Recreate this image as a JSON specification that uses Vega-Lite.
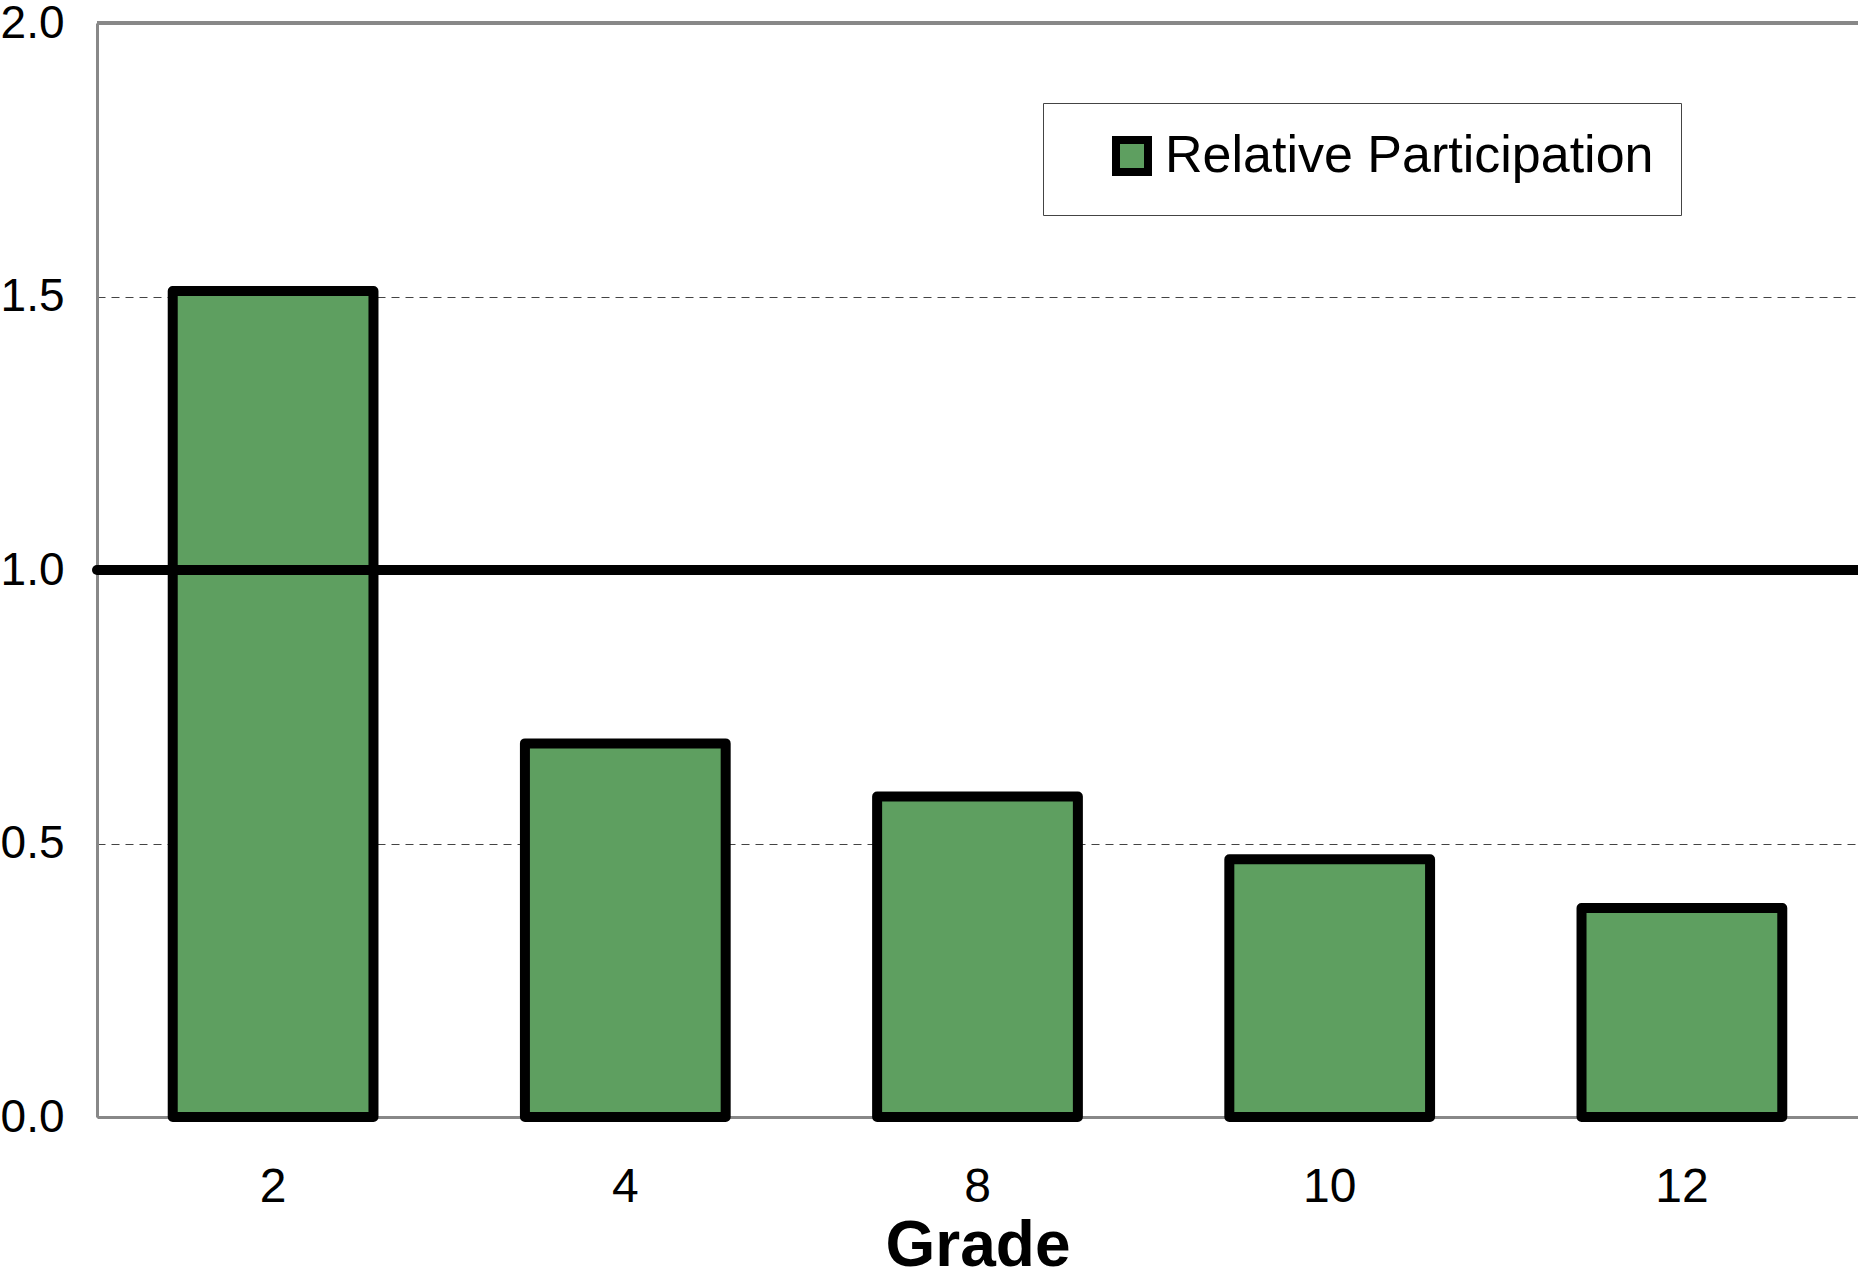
{
  "$schema": "https://vega.github.io/schema/vega-lite/v6.json",
  "width": 1761,
  "height": 1094,
  "autosize": {"type": "none"},
  "padding": {"left": 97, "top": 23, "right": 0, "bottom": 161},
  "background": "white",
  "config": {
    "view": {"stroke": null},
    "font": "Liberation Sans"
  },
  "layer": [
    {
      "data": {
        "values": [
          {"grade": "2", "value": 1.51, "series": "Relative Participation"},
          {"grade": "4", "value": 0.683, "series": "Relative Participation"},
          {"grade": "8", "value": 0.586, "series": "Relative Participation"},
          {"grade": "10", "value": 0.471, "series": "Relative Participation"},
          {"grade": "12", "value": 0.382, "series": "Relative Participation"}
        ]
      },
      "mark": {"type": "bar", "stroke": "black", "strokeWidth": 10, "strokeJoin": "round"},
      "encoding": {
        "x": {
          "field": "grade",
          "type": "ordinal",
          "sort": null,
          "scale": {"paddingInner": 0.43, "paddingOuter": 0.215},
          "axis": {
            "title": "Grade",
            "titleFont": "Liberation Sans",
            "titleFontSize": 64,
            "titleFontWeight": "bold",
            "titleColor": "black",
            "titlePadding": 3,
            "labelFont": "Liberation Sans",
            "labelFontSize": 48,
            "labelColor": "black",
            "labelAngle": 0,
            "labelPadding": 46,
            "ticks": false,
            "domain": true,
            "domainColor": "#888888",
            "domainWidth": 3
          }
        },
        "y": {
          "field": "value",
          "type": "quantitative",
          "scale": {"domain": [0, 2], "nice": false, "zero": true},
          "axis": {
            "title": null,
            "values": [0, 0.5, 1, 1.5, 2],
            "format": ".1f",
            "labelFont": "Liberation Sans",
            "labelFontSize": 46,
            "labelColor": "black",
            "labelPadding": 33,
            "ticks": false,
            "domain": true,
            "domainColor": "#888888",
            "domainWidth": 3,
            "grid": true,
            "gridColor": "#444444",
            "gridWidth": 1,
            "gridDash": [8, 6]
          }
        },
        "color": {
          "field": "series",
          "type": "nominal",
          "scale": {"range": ["#5e9f60"]},
          "legend": {
            "title": null,
            "orient": "none",
            "legendX": 946,
            "legendY": 80,
            "padding": 27,
            "strokeColor": "#444444",
            "fillColor": "white",
            "symbolType": "square",
            "symbolSize": 1024,
            "symbolStrokeWidth": 8,
            "symbolStrokeColor": "black",
            "symbolOffset": 36,
            "labelFont": "Liberation Sans",
            "labelFontSize": 52,
            "labelColor": "black",
            "labelOffset": 7,
            "labelLimit": 800
          }
        }
      }
    },
    {
      "data": {"values": [{"level": 1}]},
      "mark": {"type": "rule", "color": "black", "strokeWidth": 10, "strokeCap": "round"},
      "encoding": {"y": {"field": "level", "type": "quantitative"}}
    },
    {
      "data": {"values": [{"level": 2}]},
      "mark": {"type": "rule", "color": "#888888", "strokeWidth": 4},
      "encoding": {"y": {"field": "level", "type": "quantitative"}}
    }
  ]
}
